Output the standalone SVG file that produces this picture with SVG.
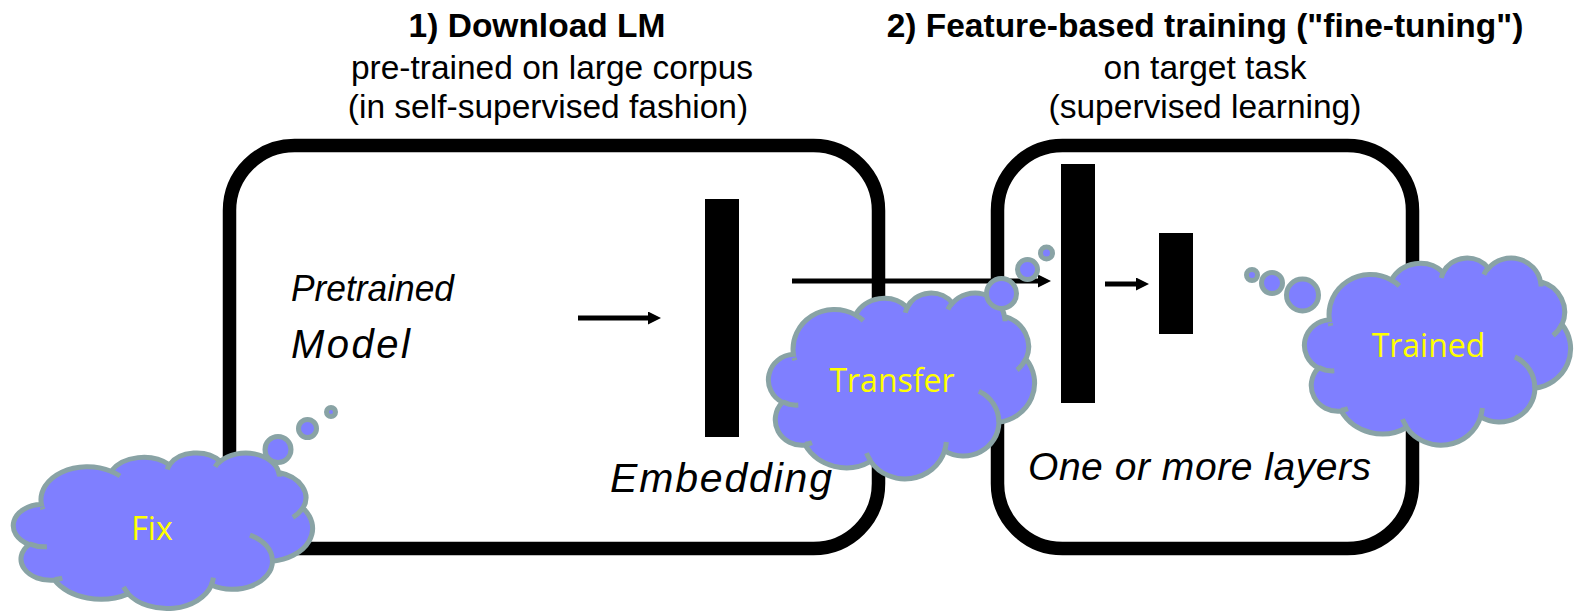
<svg xmlns="http://www.w3.org/2000/svg" xmlns:xlink="http://www.w3.org/1999/xlink" width="1575" height="613" viewBox="0 0 1575 613">
  <style>
    .frame { fill: none; stroke: #000; stroke-width: 13.5; }
    .bar { fill: #000; }
    .wire { stroke: #000; stroke-width: 5; fill: none; }
    .cloud { fill: #7f7fff; stroke: #89a3a5; stroke-width: 5; }
    .cloud-inner { fill: none; stroke: #89a3a5; stroke-width: 5; }
    .head { font-family: "Liberation Sans", Arial, sans-serif; font-size: 33.5px; fill: #000; text-anchor: middle; }
    .bold { font-weight: bold; }
    .label { font-family: "Liberation Sans", Arial, sans-serif; font-style: italic; fill: #000; }
    .say { font-family: "Open Sans", "Noto Sans", sans-serif; font-size: 32px; fill: #ffff00; text-anchor: middle; }
  </style>
  <defs>
    <marker id="arrow" markerUnits="userSpaceOnUse" markerWidth="14" markerHeight="14" refX="3" refY="6.5" orient="auto">
      <path d="M0,0 L13,6.5 L0,13 Z" fill="#000"/>
    </marker>
    <!-- cloud outline in a 43200 x 43200 unit box -->
    <path id="cloudBody" class="cloud" vector-effect="non-scaling-stroke" d="M3900,14370 A6753,9190 0 0 1 14002,5199 A5333,7267 0 0 1 22452,3427 A4365,5945 0 0 1 29830,2477 A4857,6595 0 0 1 38314,5572 A5333,7273 0 0 1 41815,15456 A6775,9220 0 0 1 37401,30200 A5785,7867 0 0 1 28551,36809 A6752,9215 0 0 1 16477,39264 A7720,10543 0 0 1 5806,35470 A4360,5918 0 0 1 2115,25547 A4345,5945 0 0 1 3900,14370 Z"/>
    <!-- short inner strokes that separate the lobes -->
    <path id="cloudLines" class="cloud-inner" vector-effect="non-scaling-stroke" d="M4693,26177 A4345,5945 0 0 1 2157,25379 M6928,34899 A4360,5918 0 0 1 5819,35281 M16478,39090 A6752,9215 0 0 1 15809,37347 M28827,34751 A6752,9215 0 0 1 28560,36660 M34129,22954 A5785,7867 0 0 1 37379,30089 M41798,15354 A5333,7273 0 0 1 40350,18031 M38324,5426 A4857,6595 0 0 1 38401,6691 M29078,3952 A4857,6595 0 0 1 29821,2340 M22141,4720 A4365,5945 0 0 1 22500,3331 M14000,5192 A6753,9190 0 0 1 15303,6543 M4127,15789 A6753,9190 0 0 1 4034,15166"/>
  </defs>

  <rect width="1575" height="613" fill="#fff"/>

  <!-- headings -->
  <g id="heading-download">
    <text class="head bold" x="537" y="37">1) Download LM</text>
    <text class="head" x="552" y="79">pre-trained on large corpus</text>
    <text class="head" x="548" y="118">(in self-supervised fashion)</text>
  </g>
  <g id="heading-finetune">
    <text class="head bold" x="1205" y="37">2) Feature-based training ("fine-tuning")</text>
    <text class="head" x="1205" y="79">on target task</text>
    <text class="head" x="1205" y="118">(supervised learning)</text>
  </g>

  <!-- pretrained language model -->
  <g id="pretrained-model">
    <rect class="frame" x="229.5" y="145.5" width="649" height="403" rx="65" ry="65"/>
    <text class="label" x="291" y="301" font-size="37" textLength="163" lengthAdjust="spacingAndGlyphs">Pretrained</text>
    <text class="label" x="291" y="358" font-size="40" textLength="119" lengthAdjust="spacing">Model</text>
  </g>
  <g id="embedding">
    <rect class="bar" x="705" y="199" width="34" height="238"/>
    <text class="label" x="610" y="492" font-size="41" textLength="222" lengthAdjust="spacing">Embedding</text>
  </g>

  <!-- task-specific layers -->
  <g id="task-layers">
    <rect class="frame" x="997.5" y="145.5" width="415" height="403" rx="65" ry="65"/>
    <rect class="bar" x="1061" y="164" width="34" height="239"/>
    <rect class="bar" x="1159" y="233" width="34" height="101"/>
    <text class="label" x="1028" y="480" font-size="39" textLength="343" lengthAdjust="spacing">One or more layers</text>
  </g>

  <!-- connectors -->
  <g id="connectors">
    <line class="wire" x1="578" y1="318" x2="651" y2="318" marker-end="url(#arrow)"/>
    <line class="wire" x1="792" y1="281" x2="1041" y2="281" marker-end="url(#arrow)"/>
    <line class="wire" x1="1105" y1="284" x2="1139" y2="284" marker-end="url(#arrow)"/>
  </g>

  <!-- thought clouds -->
  <g id="cloud-fix">
    <g transform="translate(14.5,452.5) scale(0.0068981,0.0036)">
      <use xlink:href="#cloudBody"/>
      <use xlink:href="#cloudLines"/>
    </g>
    <circle class="cloud" cx="278" cy="449.5" r="13"/>
    <circle class="cloud" cx="307.5" cy="428.5" r="9"/>
    <circle class="cloud" cx="331" cy="412" r="4.5"/>
    <text class="say" x="152" y="540">Fix</text>
  </g>
  <g id="cloud-transfer">
    <g transform="translate(769.5,292.5) scale(0.0061343,0.0043)">
      <use xlink:href="#cloudBody"/>
      <use xlink:href="#cloudLines"/>
    </g>
    <circle class="cloud" cx="1001.5" cy="293.5" r="15"/>
    <circle class="cloud" cx="1027.5" cy="269.5" r="10"/>
    <circle class="cloud" cx="1046.5" cy="253" r="6"/>
    <text class="say" x="892" y="392">Transfer</text>
  </g>
  <g id="cloud-trained">
    <g transform="translate(1305.5,257.5) scale(0.0061343,0.0043287)">
      <use xlink:href="#cloudBody"/>
      <use xlink:href="#cloudLines"/>
    </g>
    <circle class="cloud" cx="1252" cy="275" r="5.5"/>
    <circle class="cloud" cx="1272" cy="283" r="10.5"/>
    <circle class="cloud" cx="1302.5" cy="295" r="16"/>
    <text class="say" x="1428.5" y="357">Trained</text>
  </g>
</svg>
